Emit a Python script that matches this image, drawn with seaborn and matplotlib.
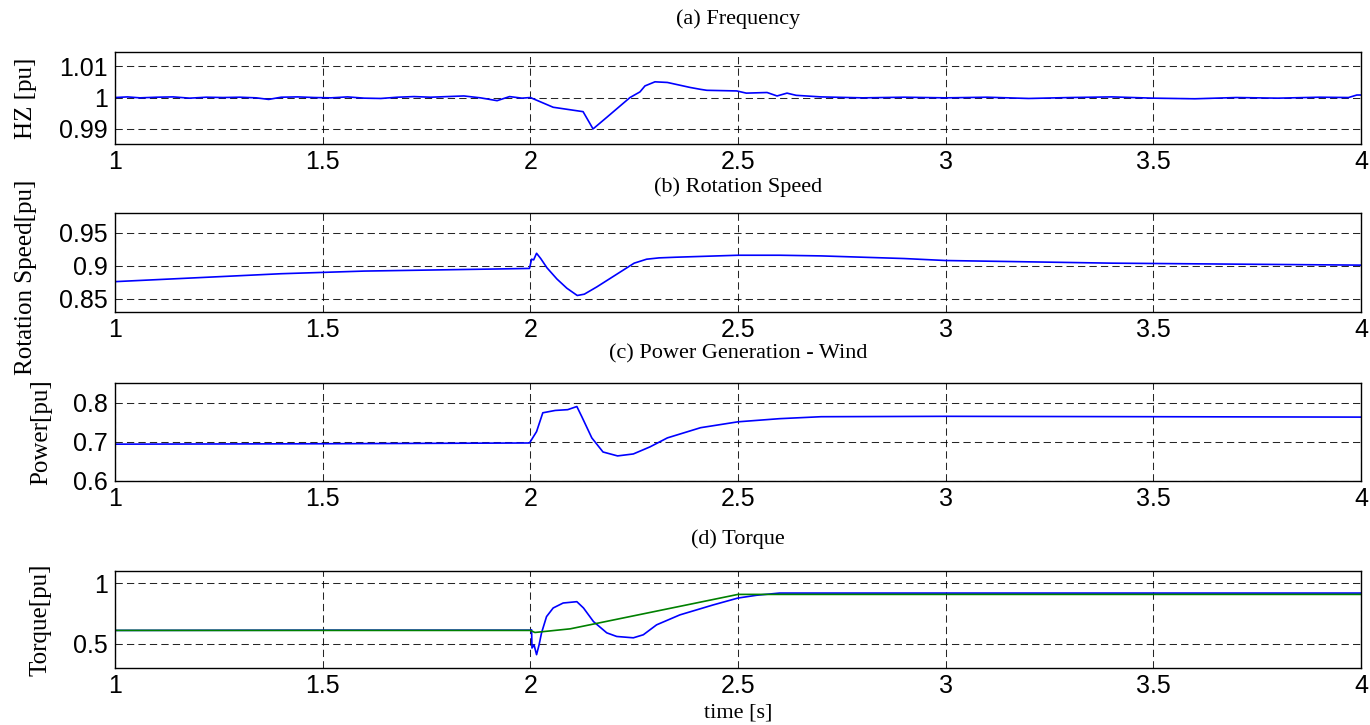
import numpy as np
import pandas as pd
import seaborn as sns
import matplotlib
matplotlib.use("Agg")
import matplotlib.pyplot as plt

# (a) frequency [pu]
freq_t = [1.00, 1.03, 1.06, 1.10, 1.14, 1.18, 1.22, 1.26, 1.30, 1.34, 1.37, 1.40,
          1.44, 1.48, 1.52, 1.56, 1.60, 1.64, 1.68, 1.72, 1.76, 1.80, 1.84, 1.88,
          1.92, 1.95, 1.98, 2.00, 2.055, 2.127, 2.151, 2.185, 2.216, 2.24, 2.264,
          2.276, 2.30, 2.33, 2.385, 2.41, 2.425, 2.497, 2.52, 2.57, 2.594, 2.618,
          2.64, 2.70, 2.80, 2.90, 3.00, 3.10, 3.20, 3.30, 3.40, 3.50, 3.60, 3.70,
          3.80, 3.90, 3.97, 3.99, 4.00]
freq_v = [1.0000, 1.0002, 0.9999, 1.0001, 1.0002, 0.9998, 1.0001, 1.0000, 1.0001, 0.9999, 0.9994, 1.0001,
          1.0002, 1.0000, 0.9999, 1.0002, 0.9998, 0.9997, 1.0001, 1.0003, 1.0001, 1.0003, 1.0005, 0.9999,
          0.9990, 1.0003, 0.9998, 1.0000, 0.9969, 0.9955, 0.9900, 0.9938, 0.9973, 1.0000, 1.0018,
          1.0037, 1.0050, 1.0048, 1.0032, 1.0026, 1.0023, 1.0021, 1.0014, 1.0016, 1.0005, 1.0014,
          1.0007, 1.0002, 0.9999, 1.0001, 0.9999, 1.0001, 0.9997, 1.0000, 1.0002, 0.9998, 0.9996, 1.0000,
          0.9998, 1.0001, 1.0000, 1.0008, 1.0008]

# (b) rotation speed [pu]
speed_t = [1.00, 1.10, 1.20, 1.30, 1.40, 1.50, 1.60, 1.70, 1.80, 1.90, 1.998, 2.003,
           2.008, 2.015, 2.025, 2.04, 2.064, 2.088, 2.113, 2.13, 2.16, 2.19, 2.22,
           2.25, 2.28, 2.31, 2.35, 2.40, 2.50, 2.60, 2.70, 2.80, 2.90, 3.00, 3.20,
           3.40, 3.60, 3.80, 4.00]
speed_v = [0.876, 0.879, 0.882, 0.885, 0.888, 0.890, 0.892, 0.893, 0.894, 0.895, 0.896, 0.910,
           0.909, 0.919, 0.911, 0.897, 0.880, 0.866, 0.855, 0.857, 0.868, 0.880, 0.892,
           0.904, 0.910, 0.912, 0.913, 0.914, 0.916, 0.916, 0.915, 0.913, 0.911, 0.908, 0.906,
           0.904, 0.903, 0.902, 0.901]

# (c) wind power generation [pu]
power_t = [1.00, 1.50, 1.998, 2.015, 2.03, 2.06, 2.09, 2.112, 2.124, 2.148, 2.175, 2.21,
           2.248, 2.288, 2.33, 2.41, 2.50, 2.60, 2.70, 3.00, 3.50, 4.00]
power_v = [0.694, 0.695, 0.697, 0.726, 0.774, 0.780, 0.782, 0.790, 0.764, 0.710, 0.674, 0.664,
           0.669, 0.687, 0.710, 0.736, 0.751, 0.759, 0.764, 0.765, 0.764, 0.763]

# (d) torque [pu], electrical (blue) and mechanical (green)
torque_t = [1.00, 1.50, 2.00, 2.003, 2.004, 2.009, 2.015, 2.021, 2.027, 2.039, 2.055, 2.079,
            2.112, 2.128, 2.152, 2.184, 2.208, 2.248, 2.272, 2.304, 2.36, 2.44, 2.50, 2.545,
            2.60, 3.00, 3.50, 4.00]
torque_v = [0.610, 0.612, 0.612, 0.615, 0.465, 0.490, 0.410, 0.490, 0.590, 0.724, 0.795, 0.836,
            0.847, 0.795, 0.683, 0.590, 0.560, 0.549, 0.574, 0.656, 0.738, 0.820, 0.877, 0.900,
            0.918, 0.918, 0.918, 0.918]
mech_t = [1.00, 2.00, 2.011, 2.096, 2.50, 4.00]
mech_v = [0.610, 0.610, 0.593, 0.623, 0.907, 0.907]

sns.set_style("white")
plt.rcParams["font.family"] = ["Liberation Sans", "DejaVu Sans"]
plt.rcParams["text.color"] = "black"
plt.rcParams["axes.labelcolor"] = "black"
serif = ["Liberation Serif", "DejaVu Serif"]

fig = plt.figure(figsize=(13.7, 7.25), dpi=100)

W, H = 1370, 725
left, right = 115, 1361
# top and bottom edges of each panel, in pixels
boxes = [(52, 144), (213, 312), (383, 481), (571, 668)]
axes = []
for top, bot in boxes:
    ax = fig.add_axes([left / W, 1 - bot / H, (right - left) / W, (bot - top) / H])
    axes.append(ax)

panels = [
    (freq_t, freq_v, (0.9852, 1.0145), [0.99, 1.0, 1.01], ["0.99", "1", "1.01"], "HZ [pu]", -0.0626, 0.5),
    (speed_t, speed_v, (0.83, 0.98), [0.85, 0.9, 0.95], ["0.85", "0.9", "0.95"], "Rotation Speed[pu]", -0.0626, 0.35),
    (power_t, power_v, (0.6, 0.85), [0.6, 0.7, 0.8], ["0.6", "0.7", "0.8"], "Power[pu]", -0.0506, 0.5),
    (torque_t, torque_v, (0.3, 1.1), [0.5, 1.0], ["0.5", "1"], "Torque[pu]", -0.0506, 0.5),
]
titles = ["(a) Frequency", "(b) Rotation Speed", "(c) Power Generation - Wind", "(d) Torque"]
title_y = [19, 187, 354, 539]

for ax, (t, v, ylim, yt, ytl, ylab, lx, ly), ttl, ty in zip(axes, panels, titles, title_y):
    sns.lineplot(x=t, y=v, ax=ax, color="#0000ff", linewidth=1.2, sort=False, estimator=None)
    ax.set_xlim(1, 4)
    ax.set_ylim(*ylim)
    ax.set_xticks([1, 1.5, 2, 2.5, 3, 3.5, 4])
    ax.set_xticklabels(["1", "1.5", "2", "2.5", "3", "3.5", "4"])
    ax.set_yticks(yt)
    ax.set_yticklabels(ytl)
    ax.tick_params(direction="in", labelsize=18, length=4, width=0.8, colors="black",
                   labelcolor="black")
    ax.tick_params(axis="x", pad=4)
    ax.tick_params(axis="y", pad=5)
    ax.grid(True, color="black", linestyle=(0, (7, 4)), linewidth=0.75, alpha=0.85)
    for s in ax.spines.values():
        s.set_color("black")
        s.set_linewidth(1.0)
    ax.set_ylabel(ylab, fontsize=18, family=serif, color="black")
    ax.yaxis.set_label_coords(lx, ly)
    fig.text(0.5 * (left + right) / W, 1 - ty / H, ttl, ha="center", va="center",
             fontsize=16, family=serif, color="black")

sns.lineplot(x=mech_t, y=mech_v, ax=axes[3], color="#008000", linewidth=1.2, sort=False, estimator=None)

fig.text(0.5 * (left + right) / W, 1 - 713 / H, "time [s]", ha="center", va="center",
         fontsize=16, family=serif, color="black")

fig.savefig("out.png", dpi=100)
